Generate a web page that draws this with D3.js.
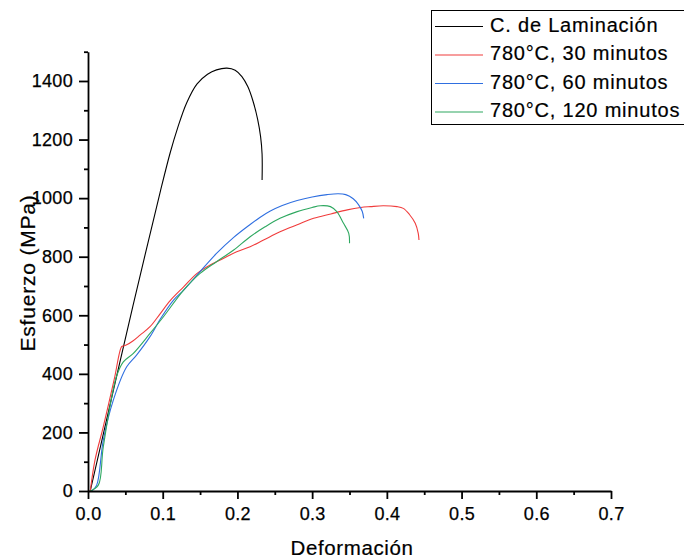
<!DOCTYPE html>
<html>
<head>
<meta charset="utf-8">
<script src="https://cdn.jsdelivr.net/npm/d3@7"></script>
<style>
  html, body { margin: 0; padding: 0; background: #fff; }
  svg { display: block; font-family: "Liberation Sans", Arial, sans-serif; }
</style>
</head>
<body>
<svg id="chart" width="684" height="559"></svg>
<script>
// Stress–strain curves (strain, stress in MPa)
const lamStrain = [0.003, 0.03, 0.06, 0.08, 0.097, 0.110, 0.120, 0.132, 0.146, 0.160, 0.172, 0.186, 0.197, 0.206, 0.214, 0.221, 0.227, 0.231, 0.233, 0.233];
const lamStress = [0, 300, 630, 845, 1025, 1155, 1240, 1325, 1390, 1423, 1438, 1444, 1437, 1415, 1380, 1330, 1270, 1210, 1150, 1062];

const t30Strain = [0.003, 0.0094, 0.0205, 0.035, 0.045, 0.0473, 0.0518, 0.060, 0.070, 0.083, 0.0965, 0.110, 0.128, 0.146, 0.1635, 0.181, 0.199, 0.217, 0.235, 0.257, 0.280, 0.302, 0.325, 0.347, 0.365, 0.378, 0.395, 0.4135, 0.422, 0.430, 0.438, 0.442, 0.443];
const t30Stress = [0, 106, 220, 380, 493, 495, 499, 512, 533, 561, 605, 650, 697, 743, 772, 794, 817, 834, 857, 885, 909, 931, 946, 960, 968, 971, 974, 971, 965, 945, 914, 880, 857];

const t60Strain = [0.005, 0.0116, 0.0205, 0.034, 0.0518, 0.065, 0.083, 0.097, 0.1145, 0.128, 0.150, 0.172, 0.195, 0.217, 0.230, 0.244, 0.260, 0.280, 0.300, 0.320, 0.335, 0.345, 0.355, 0.362, 0.367, 0.369];
const t60Stress = [0, 20, 174, 311, 424, 464, 527, 588, 652, 686, 749, 811, 866, 910, 934, 956, 975, 992, 1004, 1012, 1015, 1012, 998, 978, 955, 931];

const t120Strain = [0.003, 0.0138, 0.0205, 0.038, 0.0473, 0.0607, 0.083, 0.101, 0.128, 0.150, 0.172, 0.195, 0.217, 0.237, 0.257, 0.280, 0.300, 0.311, 0.3245, 0.333, 0.342, 0.349, 0.350];
const t120Stress = [0, 20, 151, 390, 441, 470, 538, 595, 686, 743, 783, 823, 868, 902, 931, 954, 968, 974, 971, 954, 914, 880, 846];

const seriesNames = ["C. de Laminación", "780°C, 30 minutos", "780°C, 60 minutos", "780°C, 120 minutos"];
const seriesColors = ["#000000", "#f03c3c", "#2f6fe0", "#2ea860"];

const xTicks = [0, 0.1, 0.2, 0.3, 0.4, 0.5, 0.6, 0.7];
const xMinorTicks = [0.05, 0.15, 0.25, 0.35, 0.45, 0.55, 0.65];
const yTicks = [0, 200, 400, 600, 800, 1000, 1200, 1400];
const yMinorTicks = [100, 300, 500, 700, 900, 1100, 1300, 1500];

const series = [
  { strain: lamStrain, stress: lamStress },
  { strain: t30Strain, stress: t30Stress },
  { strain: t60Strain, stress: t60Stress },
  { strain: t120Strain, stress: t120Stress }
].map((s, i) => ({
  name: seriesNames[i],
  color: seriesColors[i],
  points: s.strain.map((e, k) => [e, s.stress[k]])
}));

const svg = d3.select("#chart");
const x = d3.scaleLinear().domain([0, 0.7]).range([88, 611]);
const y = d3.scaleLinear().domain([0, 1500]).range([491, 51.7]);

// curves
const line = d3.line()
  .x(d => x(d[0]))
  .y(d => y(d[1]))
  .curve(d3.curveCatmullRom.alpha(0.5));

svg.append("g").selectAll("path")
  .data(series)
  .join("path")
  .attr("d", d => line(d.points))
  .attr("fill", "none")
  .attr("stroke", d => d.color)
  .attr("stroke-width", 1.1);

// axes
const axisStyle = g => {
  g.selectAll(".domain").attr("stroke", "#000").attr("stroke-width", 1.8);
  g.selectAll(".tick line").attr("stroke", "#000").attr("stroke-width", 1.8);
  g.selectAll(".tick text").attr("fill", "#000")
    .attr("stroke", "#000").attr("stroke-width", 0.25)
    .style("font-size", "18px")
    .style("font-family", "'Liberation Sans', Arial, sans-serif")
    .style("letter-spacing", "0.3px");
};

svg.append("g")
  .attr("transform", "translate(0,491)")
  .call(d3.axisBottom(x).tickValues(xMinorTicks).tickSize(4).tickFormat("").tickSizeOuter(0))
  .call(g => g.select(".domain").remove())
  .call(axisStyle);

svg.append("g")
  .attr("transform", "translate(0,491)")
  .call(d3.axisBottom(x).tickValues(xTicks).tickSize(8).tickPadding(8).tickSizeOuter(0).tickFormat(d3.format(".1f")))
  .call(axisStyle);

svg.append("g")
  .attr("transform", "translate(88,0)")
  .call(d3.axisLeft(y).tickValues(yMinorTicks).tickSize(4).tickFormat("").tickSizeOuter(0))
  .call(g => g.select(".domain").remove())
  .call(axisStyle);

svg.append("g")
  .attr("transform", "translate(88,0)")
  .call(d3.axisLeft(y).tickValues(yTicks).tickSize(9).tickPadding(6).tickSizeOuter(0).tickFormat(d3.format("d")))
  .call(axisStyle);

// axis titles
svg.append("text")
  .attr("x", 352)
  .attr("y", 555)
  .attr("text-anchor", "middle")
  .attr("stroke", "#000").attr("stroke-width", 0.2)
  .style("font-size", "20.5px")
  .style("letter-spacing", "0.6px")
  .text("Deformación");

svg.append("text")
  .attr("transform", "translate(35,273) rotate(-90)")
  .attr("text-anchor", "middle")
  .attr("stroke", "#000").attr("stroke-width", 0.2)
  .style("font-size", "21px")
  .style("letter-spacing", "0.8px")
  .text("Esfuerzo (MPa)");

// legend
const legend = svg.append("g");
legend.append("rect")
  .attr("x", 431.5).attr("y", 10.5)
  .attr("width", 270).attr("height", 114)
  .attr("fill", "#fff")
  .attr("stroke", "#000")
  .attr("stroke-width", 1);

const rowY = i => 24.5 + i * 28.5;
const rows = legend.selectAll("g.row")
  .data(series)
  .join("g")
  .attr("class", "row");

rows.append("line")
  .attr("x1", 435).attr("x2", 483)
  .attr("y1", (d, i) => rowY(i) + 2).attr("y2", (d, i) => rowY(i) + 2)
  .attr("stroke", d => d.color)
  .attr("stroke-width", 1.1);

rows.append("text")
  .attr("x", 490)
  .attr("y", (d, i) => rowY(i))
  .attr("dy", "0.35em")
  .attr("stroke", "#000").attr("stroke-width", 0.2)
  .style("font-size", "20px")
  .style("letter-spacing", "0.8px")
  .text(d => d.name);
</script>
</body>
</html>
